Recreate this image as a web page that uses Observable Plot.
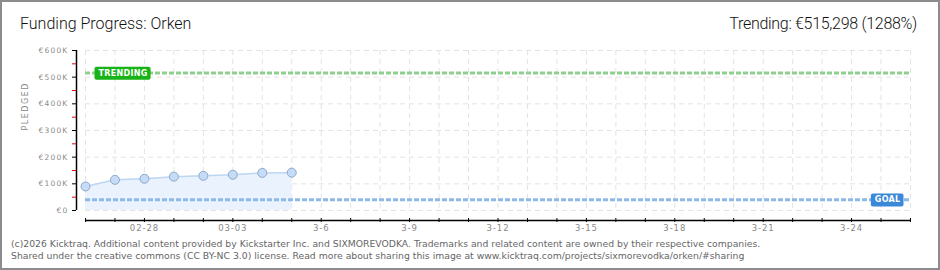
<!DOCTYPE html>
<html>
<head>
<meta charset="utf-8">
<script src="https://cdn.jsdelivr.net/npm/d3@7"></script>
<script src="https://cdn.jsdelivr.net/npm/@observablehq/plot@0.6"></script>
<style>
  html, body { margin: 0; padding: 0; background: #fff; }
  #wrap { position: relative; width: 940px; height: 270px; overflow: hidden; background: #fff; }
  #frame { position: absolute; left: 0; top: 0; width: 940px; height: 270px; box-sizing: border-box; border: 2px solid #8c8c8c; pointer-events: none; z-index: 5; }
  #chart { position: absolute; left: 0; top: 0; }
  .title { position: absolute; top: 14px; font-family: Roboto, "Liberation Sans", sans-serif; font-weight: 300; font-size: 16px; color: #111; white-space: nowrap; }
  #title { left: 20px; }
  #trend { right: 23px; letter-spacing: -0.3px; }
  .foot { position: absolute; left: 11px; font-family: "DejaVu Sans", sans-serif; font-size: 9.28px; color: #666; white-space: nowrap; }
  #foot1 { top: 238px; }
  #foot2 { top: 250px; }
  g[aria-label="y-axis tick label"] text { letter-spacing: 1.2px; }
  g[aria-label="x-axis tick label"] text { letter-spacing: 0.9px; }
</style>
</head>
<body>
<div id="wrap">
  <div id="chart"></div>
  <div class="title" id="title">Funding Progress: Orken</div>
  <div class="title" id="trend">Trending: €515,298 (1288%)</div>
  <div class="foot" id="foot1">(c)2026 Kicktraq. Additional content provided by Kickstarter Inc. and SIXMOREVODKA. Trademarks and related content are owned by their respective companies.</div>
  <div class="foot" id="foot2">Shared under the creative commons (CC BY-NC 3.0) license. Read more about sharing this image at www.kicktraq.com/projects/sixmorevodka/orken/#sharing</div>
  <div id="frame"></div>
</div>
<script>
// ---- data ----
const dates = ["2026-02-26","2026-02-27","2026-02-28","2026-03-01","2026-03-02","2026-03-03","2026-03-04","2026-03-05"];
const pledged = [90000, 115000, 119000, 127000, 130000, 134000, 141000, 142000];
const goal = 40000;
const trending = 515298;
const startDate = "2026-02-26";
const endDate = "2026-03-26";
const yTicks = [0, 100000, 200000, 300000, 400000, 500000, 600000];
const yTickLabels = ["€0", "€100K", "€200K", "€300K", "€400K", "€500K", "€600K"];
const yMinorTicks = [50000, 150000, 250000, 350000, 450000, 550000];
const xLabelDates = ["2026-02-28","2026-03-03","2026-03-06","2026-03-09","2026-03-12","2026-03-15","2026-03-18","2026-03-21","2026-03-24"];
const xLabels = ["02-28","03-03","3-6","3-9","3-12","3-15","3-18","3-21","3-24"];
const trendLabel = "TRENDING";
const goalLabel = "GOAL";
const yLabel = "PLEDGED";

// ---- build ----
const parse = d3.utcParse("%Y-%m-%d");
const data = dates.map((d, i) => ({date: parse(d), pledged: pledged[i]}));
const x0 = parse(startDate), x1 = parse(endDate);
const dayTicks = d3.utcDay.range(x0, d3.utcDay.offset(x1, 1));
const xLabelMap = new Map(xLabelDates.map((d, i) => [+parse(d), xLabels[i]]));
const yLabelMap = new Map(yTicks.map((v, i) => [v, yTickLabels[i]]));

const smallFont = "DejaVu Sans, sans-serif";

const chart = Plot.plot({
  width: 940,
  height: 270,
  marginLeft: 85,
  marginRight: 30,
  marginTop: 50,
  marginBottom: 60,
  style: {background: "transparent", fontFamily: smallFont, overflow: "visible"},
  x: {type: "utc", domain: [x0, x1], axis: null},
  y: {domain: [0, 600000], axis: null},
  marks: [
    Plot.gridY(yTicks, {stroke: "#e3e3e3", strokeOpacity: 1, strokeDasharray: "5,4"}),
    Plot.gridX(dayTicks, {stroke: "#e3e3e3", strokeOpacity: 1, strokeDasharray: "5,4"}),
    Plot.areaY(data, {x: "date", y: "pledged", fill: "#eaf3fd"}),
    Plot.lineY(data, {x: "date", y: "pledged", stroke: "#bcd7f3", strokeWidth: 1.5}),
    Plot.ruleY([goal], {stroke: "#8db9e8", strokeWidth: 3, strokeDasharray: "5,2"}),
    Plot.ruleY([trending], {stroke: "#8fd08f", strokeWidth: 3, strokeDasharray: "5,2"}),
    Plot.dot(data, {x: "date", y: "pledged", r: 4.5, fill: "#c4dcf6", stroke: "#8fa7c9", strokeWidth: 1}),
    // y axis
    Plot.ruleX([x0], {dx: -9, stroke: "#000", strokeWidth: 1.5}),
    Plot.axisY(yTicks, {dx: -9, tickSize: 4, tickPadding: 4, stroke: "#000", fill: "#8a8a8a", label: null,
      fontSize: 7.5, fontFamily: smallFont, tickFormat: d => yLabelMap.get(d)}),
    Plot.axisY(yMinorTicks, {dx: -9, tickSize: 4, stroke: "#e00000", label: null, tickFormat: () => ""}),
    // x axis
    Plot.ruleY([0], {dy: 10, stroke: "#000", strokeWidth: 1.5}),
    Plot.axisX(dayTicks, {dy: 8, tickSize: 4, tickPadding: 2, stroke: "#000", fill: "#8a8a8a", label: null,
      fontSize: 8.5, fontFamily: smallFont, tickFormat: d => xLabelMap.get(+d) ?? ""}),
    // labels
    Plot.text([trending], {x: () => x0, y: d => d, text: () => trendLabel, dx: 13, textAnchor: "start",
      fill: "#fff", fontSize: 8, fontWeight: "bold", fontFamily: smallFont}),
    Plot.text([goal], {x: () => x1, y: d => d, text: () => goalLabel, dx: -10, textAnchor: "end",
      fill: "#fff", fontSize: 8, fontWeight: "bold", fontFamily: smallFont}),
    Plot.text([yLabel], {frameAnchor: "left", dx: -60, rotate: -90, text: d => d,
      fill: "#8a8a8a", fontSize: 8, fontFamily: smallFont})
  ]
});

document.getElementById("chart").appendChild(chart);

const boxColors = {[trendLabel]: "#17b317", [goalLabel]: "#3a88d8"};
chart.querySelectorAll("text").forEach(t => {
  const s = t.textContent;
  if (s === yLabel) t.style.letterSpacing = "1.5px";
  if (!(s in boxColors)) return;
  t.style.letterSpacing = "0.3px";
  const b = t.getBBox();
  const r = document.createElementNS("http://www.w3.org/2000/svg", "rect");
  r.setAttribute("x", b.x - 4);
  r.setAttribute("y", b.y - 2);
  r.setAttribute("width", b.width + 7);
  r.setAttribute("height", b.height + 4);
  r.setAttribute("rx", 2);
  r.setAttribute("fill", boxColors[s]);
  const tr = t.getAttribute("transform");
  if (tr) r.setAttribute("transform", tr);
  t.parentNode.insertBefore(r, t);
});
</script>
</body>
</html>
